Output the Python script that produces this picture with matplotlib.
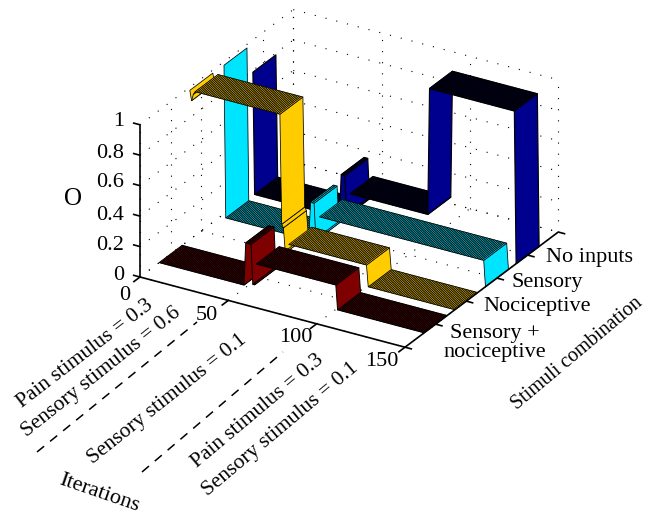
import numpy as np, matplotlib
matplotlib.use("Agg"); import matplotlib.pyplot as plt
from matplotlib.lines import Line2D
from matplotlib.transforms import Bbox, TransformedBbox
from mpl_toolkits.mplot3d import proj3d
from mpl_toolkits.mplot3d.art3d import Poly3DCollection

plt.rcParams["font.family"] = ["Liberation Serif", "DejaVu Serif"]

# O over iterations, as runs of (level, number of iterations), x = 0..150
# nan = nothing drawn there
red_levels = [0, 0.28, 0.02, 0.16, 0]
red_runs = [49, 4, 2, 46, 50]
gold_levels = [0.98, 0.915, 0.96, 0.98, 0.26, 0.24, 0.09, 0.14, 0]
gold_runs = [1, 1, 1, 49, 1, 1, 2, 45, 50]
cyan_levels = [np.nan, 1.0, 0, 0.25, 0.02, 0.17, 0]
cyan_runs = [2, 1, 48, 3, 2, 94, 1]
blue_levels = [np.nan, 0.8, 0, 0.28, 0.03, 0.17, 1.0, 0]
blue_runs = [1, 1, 49, 3, 2, 45, 49, 1]
stim_pos = [1, 2, 3, 4]
stim_labels = ["Sensory +\nnociceptive", "Nociceptive", "Sensory", "No inputs"]
colors = ["#7f0000", "#ffcc00", "#00e5ff", "#00008f"]
edge_widths = [0.7, 0.55, 0.55, 0.85]
x_ticks = [0, 50, 100, 150]
y_ticks = [0, 1, 2, 3, 4, 5]
z_ticks = [0, 0.2, 0.4, 0.6, 0.8, 1]
z_labels = ["0", "0.2", "0.4", "0.6", "0.8", "1"]
W, H = 670, 527

fig = plt.figure(figsize=(W / 100, H / 100), dpi=100)
ax = fig.add_axes([0, 0, 500 / W, 500 / H], projection="3d", proj_type="ortho", computed_zorder=False)
ax.view_init(elev=26.5, azim=-59.3)
ax.set_box_aspect((308, 300, 170))
ax.set_xlim(0, 150, view_margin=0); ax.set_ylim(0, 5, view_margin=0); ax.set_zlim(0, 1, view_margin=0)
ax.set_axis_off(); ax.patch.set_alpha(0)

def to_px(x, y, z):
    a, b, _ = proj3d.proj_transform(x, y, z, ax.get_proj())
    return ax.transData.transform((a, b))

# fit the 3D box to the pixel positions of the axis corners
p0 = to_px(0, 0, 0); p1 = to_px(150, 0, 0)
size = 500 * 265 / (p1[0] - p0[0])
ax.set_position([0, 0, size / W, size / H])
p0 = to_px(0, 0, 0)
ax.set_position([(140 - p0[0]) / W, (H - 277 - p0[1]) / H, size / W, size / H])

# dotted grid on floor and the two back walls
dots = dict(color="k", lw=0.8, ls=(0, (1, 9)), zorder=1)
for xt in x_ticks:
    ax.plot([xt, xt], [0, 5], [0, 0], **dots)
    ax.plot([xt, xt], [5, 5], [0, 1], **dots)
for yt in y_ticks:
    ax.plot([0, 150], [yt, yt], [0, 0], **dots)
    ax.plot([0, 0], [yt, yt], [0, 1], **dots)
for zt in z_ticks:
    ax.plot([0, 150], [5, 5], [zt, zt], **dots)
    ax.plot([0, 0], [0, 5], [zt, zt], **dots)

# ribbons, back to front
half = 0.375
series = [(red_levels, red_runs), (gold_levels, gold_runs), (cyan_levels, cyan_runs), (blue_levels, blue_runs)]
for k in (3, 2, 1, 0):
    O = np.repeat(series[k][0], series[k][1])
    xs = np.arange(len(O)); y = stim_pos[k]
    quads = [[(xs[i], y - half, O[i]), (xs[i + 1], y - half, O[i + 1]),
              (xs[i + 1], y + half, O[i + 1]), (xs[i], y + half, O[i])]
             for i in range(len(O) - 1) if not np.isnan(O[i])]
    ax.add_collection3d(Poly3DCollection(quads, facecolors=colors[k], edgecolors="k", linewidths=edge_widths[k],
                                         shade=False, zorder=2 + 3 - k))

# axis lines and ticks
ink = dict(color="k", lw=1.2, zorder=8, solid_capstyle="butt")
ax.plot([0, 150], [0, 0], [0, 0], **ink)
ax.plot([150, 150], [0, 5], [0, 0], **ink)
ax.plot([0, 0], [0, 0], [0, 1], **ink)
for xt in x_ticks:
    ax.plot([xt, xt], [0, -0.22], [0, 0], **ink)
for yt in y_ticks:
    ax.plot([150, 154], [yt, yt], [0, 0], **ink)
for zt in z_ticks:
    ax.plot([0, -4], [0, 0], [zt, zt], **ink)

def label(px, py, s, size=16, rot=0, ha="center"):
    return fig.text(px / W, 1 - py / H, s, fontsize=size, rotation=rot, ha=ha, va="center",
                    rotation_mode="anchor", linespacing=1.05)

for s, py in zip(z_labels, [275, 246, 215, 183, 153, 122]):
    label(124, py, s, ha="right")
label(73, 199, "O", size=18)
for s, px, py in zip(x_ticks, [125, 207, 296, 382], [295, 315, 338, 361]):
    label(px, py, str(s))
label(590, 258, stim_labels[3]); label(547, 282, stim_labels[2]); label(537, 306, stim_labels[1])
label(495, 343, stim_labels[0])
label(577, 354, "Stimuli combination", size=14.5, rot=40)
label(85, 354, "Pain stimulus = 0.3", size=15.5, rot=37.5)
label(101, 372, "Sensory stimulus = 0.6", size=15.5, rot=38.5)
label(167, 399, "Sensory stimulus = 0.1", size=15.5, rot=38.5)
label(258, 411, "Pain stimulus = 0.3", size=15.5, rot=40)
label(280, 429, "Sensory stimulus = 0.1", size=15.5, rot=40)
it = label(99, 493, "Iterations", rot=-19)
it.set_clip_box(TransformedBbox(Bbox([[0, (H - 511) / H], [1, 1]]), fig.transFigure)); it.set_clip_on(True)
for xa, ya, xb, yb in [(37, 452, 197, 322), (142, 472, 283, 352)]:
    fig.add_artist(Line2D([xa / W, xb / W], [1 - ya / H, 1 - yb / H], color="k", lw=1.1, ls=(0, (6, 5))))

fig.savefig("out.png", dpi=100)
